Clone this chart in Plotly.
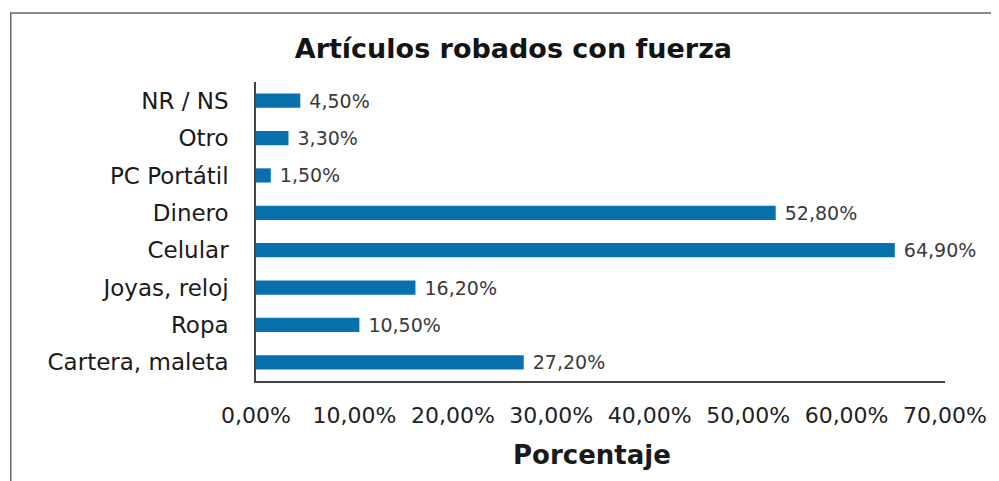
import plotly.graph_objects as go

categories = ["Cartera, maleta", "Ropa", "Joyas, reloj", "Celular", "Dinero",
              "PC Portátil", "Otro", "NR / NS"]
values = [27.2, 10.5, 16.2, 64.9, 52.8, 1.5, 3.3, 4.5]
tick_values = [0, 10, 20, 30, 40, 50, 60, 70]
tick_labels = [f"{v:.2f}".replace(".", ",") + "%" for v in tick_values]

title_text = "Artículos robados con fuerza"
x_title = "Porcentaje"

BAR = "#0770ad"
FONT = "DejaVu Sans"

# page body has an 8px default margin, so the figure is 8px smaller
W, H = 991, 473

fig = go.Figure(go.Bar(
    y=categories, x=values, orientation="h",
    marker=dict(color=BAR, line=dict(width=0)),
    width=0.38,
    texttemplate="\u00a0%{x:.2f}%",
    textposition="outside",
    constraintext="none",
    textfont=dict(family=FONT, size=19, color="#3a3a3a"),
    cliponaxis=False,
    hoverinfo="skip",
))

fig.update_layout(
    width=W, height=H,
    margin=dict(l=248, r=51, t=74, b=100),
    paper_bgcolor="white", plot_bgcolor="white",
    separators=",.",
    showlegend=False,
    title=dict(text="<b>" + title_text + "</b>", xref="container", x=0.51,
               xanchor="center", yref="container", y=0.915, yanchor="middle",
               font=dict(family=FONT, size=27, color="#141414")),
    xaxis=dict(range=[0, 70], tickvals=tick_values, ticktext=tick_labels,
               showgrid=False, zeroline=False,
               showline=True, linecolor="#444444", linewidth=1.5,
               ticks="outside", ticklen=0, ticklabelstandoff=14,
               tickfont=dict(family=FONT, size=22, color="#222222")),
    yaxis=dict(showgrid=False, zeroline=False, showline=True,
               linecolor="#444444", linewidth=1.5,
               ticks="outside", ticklen=0, ticklabelstandoff=21,
               tickfont=dict(family=FONT, size=23, color="#1a1a1a")),
    annotations=[dict(text="<b>" + x_title + "</b>", xref="paper", yref="paper",
                      x=0.487, y=-0.247, xanchor="center", yanchor="middle",
                      showarrow=False,
                      font=dict(family=FONT, size=26, color="#1a1a1a"))],
    shapes=[dict(type="rect", xref="paper", yref="paper",
                 x0=-0.356, x1=1.3, y0=-0.6, y1=1.231,
                 line=dict(color="#666666", width=1.5), layer="below")],
)

fig.write_html("out.html")
